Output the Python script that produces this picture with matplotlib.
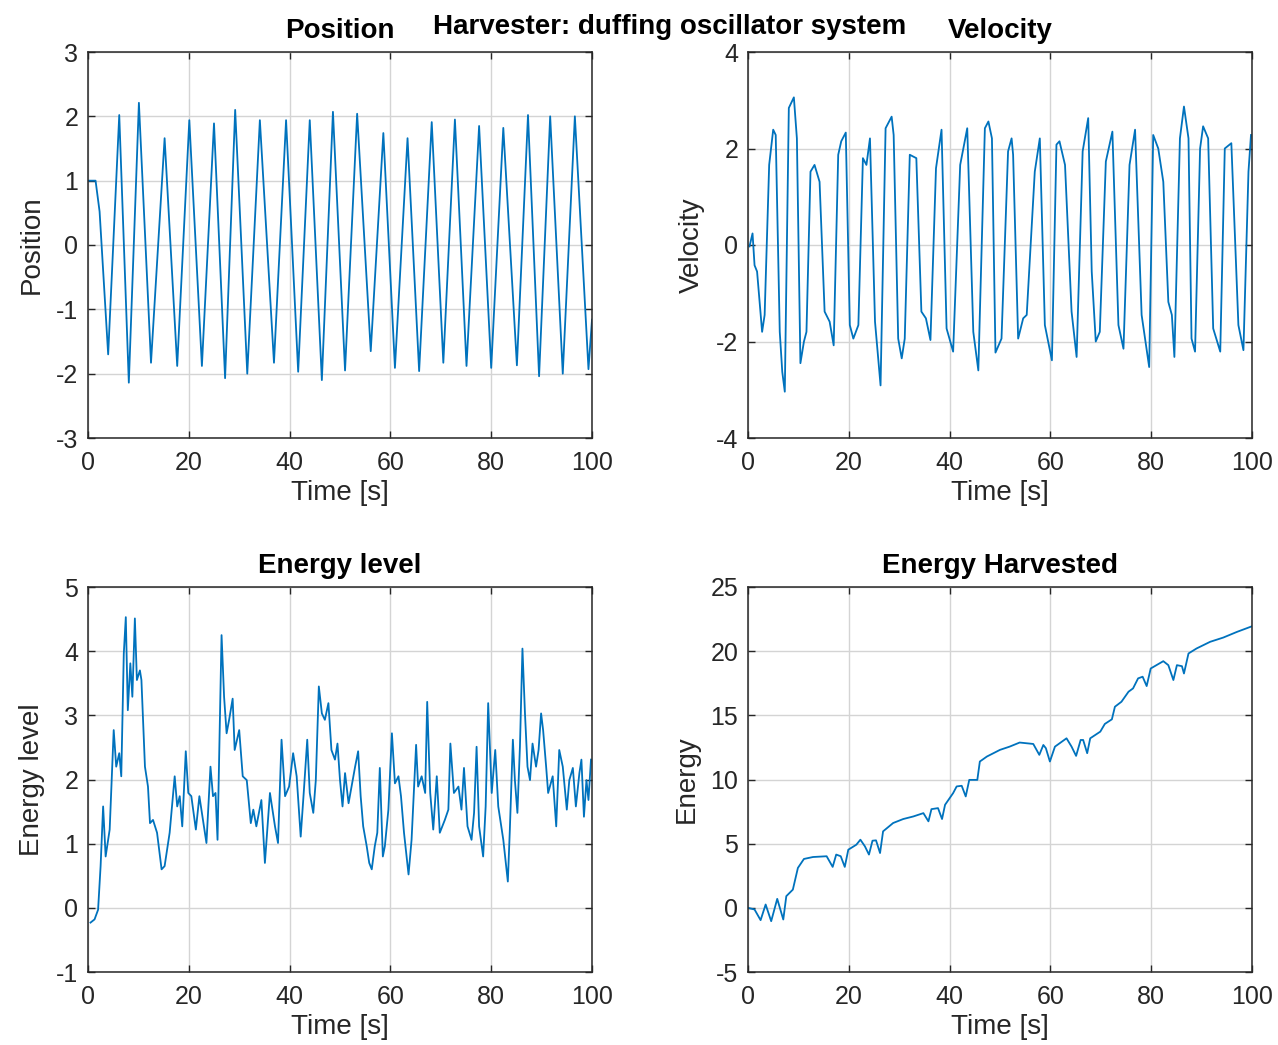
import matplotlib
matplotlib.use("Agg")
import matplotlib.pyplot as plt

plt.rcParams['font.family'] = ['Liberation Sans', 'DejaVu Sans']
plt.rcParams['axes.unicode_minus'] = False

# position (peaks / troughs)
pos_t = [0, 1.5, 2.3, 4.0, 6.2, 8.1, 10.1, 12.5, 15.2, 17.7, 20.1, 22.6, 25.0, 27.2,
         29.2, 31.6, 34.1, 36.9, 39.3, 41.7, 44.0, 46.4, 48.6, 51.0, 53.4, 56.1,
         58.6, 60.9, 63.4, 65.7, 68.2, 70.5, 72.8, 75.1, 77.6, 80.0, 82.4, 85.1,
         87.3, 89.5, 91.7, 94.2, 96.6, 99.3, 100]
pos_v = [1.0, 1.0, 0.52, -1.70, 2.02, -2.14, 2.21, -1.83, 1.66, -1.88, 1.94, -1.88,
         1.89, -2.07, 2.10, -2.0, 1.94, -1.83, 1.94, -1.97, 1.94, -2.10, 2.07,
         -1.95, 2.04, -1.65, 1.74, -1.91, 1.66, -1.96, 1.91, -1.83, 1.95, -1.88,
         1.85, -1.91, 1.82, -1.87, 2.02, -2.04, 2.0, -2.0, 2.0, -1.93, -1.16]

# velocity
vel_t = [0.3, 0.9, 1.3, 1.8, 2.8, 3.3, 4.2, 5.0, 5.5, 6.3, 6.8, 7.3, 8.1, 9.1, 9.7,
         10.4, 11.1, 11.6, 12.4, 13.2, 14.2, 15.2, 16.2, 17.0, 17.9, 18.5, 19.4,
         20.2, 20.9, 21.9, 22.8, 23.5, 24.2, 25.2, 26.3, 27.3, 28.5, 28.9, 29.8,
         30.5, 31.1, 32.1, 33.4, 34.4, 35.3, 36.2, 37.3, 38.4, 39.4, 40.7, 42.1,
         43.5, 44.7, 45.7, 47.0, 47.7, 48.4, 49.1, 50.3, 51.6, 52.3, 52.6, 53.6,
         54.6, 55.3, 56.9, 57.9, 58.9, 60.3, 61.2, 61.8, 62.9, 64.2, 65.2, 66.4,
         67.5, 68.2, 69.0, 69.8, 71.0, 72.3, 73.5, 74.5, 75.7, 76.8, 78.1, 79.6,
         80.4, 81.4, 82.4, 83.4, 84.1, 84.6, 85.7, 86.5, 87.4, 88.0, 88.7, 89.7,
         90.3, 91.3, 92.3, 93.7, 94.6, 95.9, 97.3, 98.3, 99.3, 99.8]
vel_v = [-0.03, 0.24, -0.42, -0.55, -1.8, -1.45, 1.66, 2.39, 2.28, -1.8, -2.63, -3.04,
         2.84, 3.06, 2.21, -2.45, -2.0, -1.8, 1.52, 1.66, 1.31, -1.38, -1.59, -2.08,
         1.87, 2.15, 2.33, -1.66, -1.94, -1.66, 1.80, 1.66, 2.21, -1.59, -2.91,
         2.42, 2.66, 2.28, -1.94, -2.35, -1.94, 1.87, 1.80, -1.38, -1.52, -1.97,
         1.59, 2.39, -1.73, -2.21, 1.66, 2.42, -1.8, -2.6, 2.42, 2.56, 2.21, -2.23,
         -1.94, 1.94, 2.21, 1.87, -1.94, -1.52, -1.45, 1.52, 2.21, -1.66, -2.39,
         2.08, 2.15, 1.66, -1.38, -2.32, 1.94, 2.63, -0.55, -2.0, -1.8, 1.73, 2.35,
         -1.66, -2.15, 1.66, 2.39, -1.45, -2.53, 2.28, 2.0, 1.31, -1.18, -1.45,
         -2.32, 2.21, 2.87, 2.21, -1.94, -2.21, 2.0, 2.46, 2.21, -1.73, -2.21, 2.0,
         2.11, -1.66, -2.18, 1.52, 2.28]

# energy level
lvl_t = [0.5, 1.3, 2.0, 2.5, 3.0, 3.5, 4.3, 5.1, 5.6, 6.2, 6.6, 7.1, 7.5, 7.9, 8.4,
         8.8, 9.3, 9.7, 10.3, 10.6, 11.3, 11.9, 12.3, 12.9, 13.7, 14.6, 15.2, 16.2,
         17.2, 17.7, 18.2, 18.7, 19.4, 19.9, 20.5, 21.4, 22.1, 22.8, 23.5, 24.3,
         24.8, 25.3, 25.7, 26.5, 27.0, 27.5, 28.0, 28.7, 29.1, 30.0, 30.7, 31.5,
         32.3, 32.8, 33.4, 34.4, 35.1, 36.1, 37.1, 37.7, 38.4, 39.1, 39.9, 40.7,
         41.4, 42.2, 42.8, 43.5, 44.0, 44.7, 45.2, 45.8, 46.4, 47.0, 47.7, 48.3,
         49.0, 49.5, 50.0, 50.5, 51.0, 51.7, 52.3, 53.0, 53.6, 54.1, 54.6, 55.3,
         55.8, 56.3, 56.9, 57.4, 57.9, 58.5, 58.9, 59.6, 60.3, 60.9, 61.6, 62.1,
         62.7, 63.6, 64.2, 65.1, 65.5, 66.2, 66.9, 67.3, 67.9, 68.5, 69.2, 69.8,
         70.8, 71.5, 71.9, 72.6, 73.5, 74.1, 74.6, 75.3, 76.1, 76.6, 77.1, 77.6,
         78.4, 78.9, 79.4, 80.1, 80.8, 81.4, 82.4, 83.3, 83.7, 84.3, 84.7, 85.2,
         85.7, 86.2, 86.7, 87.2, 87.7, 88.2, 88.9, 89.4, 89.9, 90.3, 90.9, 91.3,
         92.2, 92.9, 93.5, 94.2, 95.0, 95.5, 96.2, 96.8, 97.5, 97.9, 98.4, 98.9,
         99.3, 99.8]
lvl_v = [-0.23, -0.18, -0.03, 0.65, 1.58, 0.80, 1.22, 2.77, 2.20, 2.41, 2.05, 3.96,
         4.53, 3.08, 3.81, 3.29, 4.51, 3.55, 3.70, 3.55, 2.20, 1.89, 1.32, 1.37,
         1.17, 0.60, 0.65, 1.17, 2.05, 1.58, 1.74, 1.27, 2.44, 1.79, 1.74, 1.22,
         1.74, 1.37, 1.01, 2.20, 1.74, 1.79, 1.06, 4.25, 3.29, 2.72, 2.93, 3.26,
         2.46, 2.77, 2.05, 1.99, 1.32, 1.53, 1.27, 1.68, 0.70, 1.79, 1.27, 1.01,
         2.62, 1.74, 1.89, 2.41, 2.05, 1.11, 1.79, 2.62, 1.79, 1.48, 1.99, 3.45,
         3.03, 2.93, 3.19, 2.46, 2.31, 2.56, 1.99, 1.58, 2.10, 1.63, 1.89, 2.20,
         2.44, 1.74, 1.27, 0.96, 0.70, 0.60, 0.96, 1.17, 2.18, 0.80, 0.96, 1.53,
         2.72, 1.94, 2.05, 1.74, 1.17, 0.52, 1.06, 2.54, 1.89, 2.05, 1.79, 3.21,
         1.79, 1.22, 2.05, 1.17, 1.37, 1.53, 2.56, 1.79, 1.89, 1.53, 2.18, 1.27,
         1.06, 1.48, 2.51, 1.27, 0.80, 1.58, 3.19, 1.79, 2.46, 1.58, 1.06, 0.41,
         1.22, 2.62, 1.99, 1.48, 2.51, 4.04, 3.03, 2.20, 1.99, 2.56, 2.20, 2.46,
         3.03, 2.77, 2.20, 1.79, 2.05, 1.27, 2.46, 2.20, 1.53, 1.99, 2.18, 1.58,
         2.10, 2.31, 1.42, 1.99, 1.68, 2.31]

# energy harvested
eh_t = [0, 1.3, 2.5, 3.5, 4.6, 5.8, 7.0, 7.6, 8.9, 9.9, 11.1, 12.9, 15.6, 16.8, 17.5,
        18.4, 19.2, 19.9, 21.5, 22.3, 23.2, 24.0, 24.7, 25.4, 26.2, 26.8, 28.8,
        30.8, 32.8, 34.8, 35.8, 36.4, 37.7, 38.5, 39.1, 40.7, 41.4, 42.4, 43.2,
        43.9, 45.5, 46.0, 47.4, 48.7, 50.0, 51.9, 53.9, 56.6, 57.8, 58.6, 59.1,
        59.9, 60.9, 63.2, 64.2, 65.1, 66.0, 66.5, 67.3, 67.9, 69.9, 70.8, 72.2,
        72.8, 74.1, 75.5, 76.4, 77.4, 78.3, 79.1, 79.9, 82.4, 83.4, 84.4, 85.1,
        86.1, 86.5, 87.4, 89.0, 91.7, 94.3, 97.0, 100]
eh_v = [0, -0.13, -0.96, 0.26, -1.04, 0.70, -0.91, 0.91, 1.42, 3.11, 3.81, 3.96, 4.02,
        3.19, 4.15, 4.02, 3.19, 4.53, 4.92, 5.31, 4.79, 4.15, 5.23, 5.26, 4.27,
        5.96, 6.61, 6.92, 7.12, 7.38, 6.74, 7.69, 7.77, 6.92, 8.03, 8.94, 9.46,
        9.51, 8.68, 9.97, 9.97, 11.40, 11.79, 12.05, 12.31, 12.56, 12.88, 12.77,
        11.92, 12.69, 12.44, 11.40, 12.56, 13.21, 12.56, 11.84, 13.08, 13.08,
        12.05, 13.21, 13.73, 14.33, 14.69, 15.67, 16.06, 16.84, 17.10, 17.88,
        18.01, 17.28, 18.65, 19.22, 18.91, 17.75, 18.91, 18.83, 18.26, 19.82,
        20.21, 20.73, 21.06, 21.50, 21.94]

blue = '#0072BD'
dark = '#262626'
LBL = 20
TCK = 18

fig = plt.figure(figsize=(12.78, 10.45), dpi=100)
W, H = 1278.0, 1045.0


def make_ax(x0, y0, x1, y1):
    ax = fig.add_axes([x0 / W, 1 - y1 / H, (x1 - x0) / W, (y1 - y0) / H])
    ax.grid(True, color='#d4d4d4', linewidth=1.0)
    ax.set_axisbelow(True)
    ax.tick_params(direction='in', which='both', top=True, right=True,
                   labelsize=TCK, colors=dark, length=5, width=1.0)
    ax.tick_params(axis='x', pad=9)
    ax.tick_params(axis='y', pad=7)
    for s in ax.spines.values():
        s.set_color(dark)
        s.set_linewidth(1.1)
    ax.set_xlim(0, 100)
    ax.set_xticks([0, 20, 40, 60, 80, 100])
    ax.set_xlabel('Time [s]', fontsize=LBL, color=dark, labelpad=4)
    return ax


ax1 = make_ax(88, 52, 592, 438)
ax1.plot(pos_t, pos_v, color=blue, lw=1.3)
ax1.set_ylim(-3, 3)
ax1.set_yticks(range(-3, 4))
ax1.set_ylabel('Position', fontsize=LBL, color=dark, labelpad=8)
ax1.set_title('Position', fontsize=LBL, fontweight='bold', pad=10)

ax2 = make_ax(748, 52, 1252, 438)
ax2.plot(vel_t, vel_v, color=blue, lw=1.3)
ax2.set_ylim(-4, 4)
ax2.set_yticks([-4, -2, 0, 2, 4])
ax2.set_ylabel('Velocity', fontsize=LBL, color=dark, labelpad=8)
ax2.set_title('Velocity', fontsize=LBL, fontweight='bold', pad=10)

ax3 = make_ax(88, 587, 592, 972)
ax3.plot(lvl_t, lvl_v, color=blue, lw=1.3)
ax3.set_ylim(-1, 5)
ax3.set_yticks(range(-1, 6))
ax3.set_ylabel('Energy level', fontsize=LBL, color=dark, labelpad=8)
ax3.set_title('Energy level', fontsize=LBL, fontweight='bold', pad=10)

ax4 = make_ax(748, 587, 1252, 972)
ax4.plot(eh_t, eh_v, color=blue, lw=1.3)
ax4.set_ylim(-5, 25)
ax4.set_yticks(range(-5, 26, 5))
ax4.set_ylabel('Energy', fontsize=LBL, color=dark, labelpad=8)
ax4.set_title('Energy Harvested', fontsize=LBL, fontweight='bold', pad=10)

fig.text(670 / W, 1 - 27 / H, 'Harvester: duffing oscillator system',
         ha='center', va='center', fontsize=LBL, fontweight='bold')

fig.savefig('out.png', dpi=100)
